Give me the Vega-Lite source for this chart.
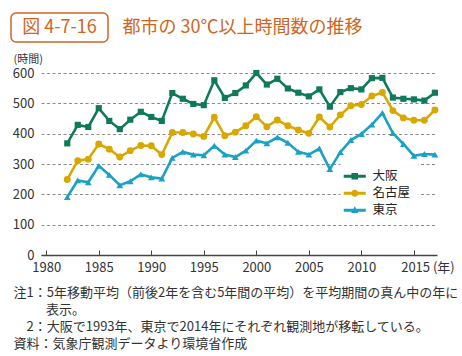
{
  "$schema": "https://vega.github.io/schema/vega-lite/v6.json",
  "background": "white",
  "padding": {"left": 10, "top": 12, "right": 2, "bottom": 2},
  "spacing": 10,
  "config": {
    "font": "Noto Sans CJK JP",
    "view": {"stroke": null}
  },
  "vconcat": [
    {
      "spacing": 13,
      "hconcat": [
        {
          "width": 97,
          "height": 29,
          "view": {"stroke": "#cf6523", "strokeWidth": 1.5, "cornerRadius": 5},
          "data": {"values": [{"label": "図 4-7-16"}]},
          "mark": {"type": "text", "font": "Noto Sans CJK JP", "fontSize": 18, "color": "#cf6523"},
          "encoding": {"text": {"field": "label"}}
        },
        {
          "width": 1,
          "height": 29,
          "data": {"values": [{"label": "都市の 30℃以上時間数の推移"}]},
          "mark": {"type": "text", "align": "left", "font": "Noto Sans CJK JP", "fontSize": 18, "color": "#cf6523"},
          "encoding": {"text": {"field": "label"}}
        }
      ]
    },
    {
      "spacing": 0,
      "resolve": {"legend": {"color": "independent"}},
      "hconcat": [
        {
          "width": 1,
          "height": 1,
          "data": {"values": [{"label": ""}]},
          "mark": {"type": "text"},
          "encoding": {"text": {"field": "label"}}
        },
        {
          "width": 396,
          "height": 182,
          "data": {"values": [
            {"year": 1982, "city": "大阪", "value": 368}, {"year": 1983, "city": "大阪", "value": 429}, {"year": 1984, "city": "大阪", "value": 422}, {"year": 1985, "city": "大阪", "value": 484}, {"year": 1986, "city": "大阪", "value": 442}, {"year": 1987, "city": "大阪", "value": 415}, {"year": 1988, "city": "大阪", "value": 446}, {"year": 1989, "city": "大阪", "value": 472}, {"year": 1990, "city": "大阪", "value": 455}, {"year": 1991, "city": "大阪", "value": 442}, {"year": 1992, "city": "大阪", "value": 534}, {"year": 1993, "city": "大阪", "value": 515}, {"year": 1994, "city": "大阪", "value": 498}, {"year": 1995, "city": "大阪", "value": 494}, {"year": 1996, "city": "大阪", "value": 576}, {"year": 1997, "city": "大阪", "value": 518}, {"year": 1998, "city": "大阪", "value": 534}, {"year": 1999, "city": "大阪", "value": 559}, {"year": 2000, "city": "大阪", "value": 600}, {"year": 2001, "city": "大阪", "value": 562}, {"year": 2002, "city": "大阪", "value": 581}, {"year": 2003, "city": "大阪", "value": 549}, {"year": 2004, "city": "大阪", "value": 535}, {"year": 2005, "city": "大阪", "value": 523}, {"year": 2006, "city": "大阪", "value": 546}, {"year": 2007, "city": "大阪", "value": 489}, {"year": 2008, "city": "大阪", "value": 537}, {"year": 2009, "city": "大阪", "value": 550}, {"year": 2010, "city": "大阪", "value": 546}, {"year": 2011, "city": "大阪", "value": 583}, {"year": 2012, "city": "大阪", "value": 584}, {"year": 2013, "city": "大阪", "value": 519}, {"year": 2014, "city": "大阪", "value": 515}, {"year": 2015, "city": "大阪", "value": 513}, {"year": 2016, "city": "大阪", "value": 509}, {"year": 2017, "city": "大阪", "value": 535},
            {"year": 1982, "city": "名古屋", "value": 249}, {"year": 1983, "city": "名古屋", "value": 311}, {"year": 1984, "city": "名古屋", "value": 316}, {"year": 1985, "city": "名古屋", "value": 366}, {"year": 1986, "city": "名古屋", "value": 349}, {"year": 1987, "city": "名古屋", "value": 323}, {"year": 1988, "city": "名古屋", "value": 344}, {"year": 1989, "city": "名古屋", "value": 361}, {"year": 1990, "city": "名古屋", "value": 360}, {"year": 1991, "city": "名古屋", "value": 331}, {"year": 1992, "city": "名古屋", "value": 404}, {"year": 1993, "city": "名古屋", "value": 404}, {"year": 1994, "city": "名古屋", "value": 399}, {"year": 1995, "city": "名古屋", "value": 391}, {"year": 1996, "city": "名古屋", "value": 454}, {"year": 1997, "city": "名古屋", "value": 393}, {"year": 1998, "city": "名古屋", "value": 405}, {"year": 1999, "city": "名古屋", "value": 426}, {"year": 2000, "city": "名古屋", "value": 456}, {"year": 2001, "city": "名古屋", "value": 423}, {"year": 2002, "city": "名古屋", "value": 445}, {"year": 2003, "city": "名古屋", "value": 426}, {"year": 2004, "city": "名古屋", "value": 412}, {"year": 2005, "city": "名古屋", "value": 401}, {"year": 2006, "city": "名古屋", "value": 455}, {"year": 2007, "city": "名古屋", "value": 422}, {"year": 2008, "city": "名古屋", "value": 462}, {"year": 2009, "city": "名古屋", "value": 492}, {"year": 2010, "city": "名古屋", "value": 496}, {"year": 2011, "city": "名古屋", "value": 524}, {"year": 2012, "city": "名古屋", "value": 536}, {"year": 2013, "city": "名古屋", "value": 476}, {"year": 2014, "city": "名古屋", "value": 452}, {"year": 2015, "city": "名古屋", "value": 444}, {"year": 2016, "city": "名古屋", "value": 444}, {"year": 2017, "city": "名古屋", "value": 478},
            {"year": 1982, "city": "東京", "value": 191}, {"year": 1983, "city": "東京", "value": 246}, {"year": 1984, "city": "東京", "value": 240}, {"year": 1985, "city": "東京", "value": 294}, {"year": 1986, "city": "東京", "value": 264}, {"year": 1987, "city": "東京", "value": 230}, {"year": 1988, "city": "東京", "value": 243}, {"year": 1989, "city": "東京", "value": 266}, {"year": 1990, "city": "東京", "value": 256}, {"year": 1991, "city": "東京", "value": 252}, {"year": 1992, "city": "東京", "value": 320}, {"year": 1993, "city": "東京", "value": 340}, {"year": 1994, "city": "東京", "value": 331}, {"year": 1995, "city": "東京", "value": 329}, {"year": 1996, "city": "東京", "value": 360}, {"year": 1997, "city": "東京", "value": 331}, {"year": 1998, "city": "東京", "value": 323}, {"year": 1999, "city": "東京", "value": 344}, {"year": 2000, "city": "東京", "value": 377}, {"year": 2001, "city": "東京", "value": 368}, {"year": 2002, "city": "東京", "value": 388}, {"year": 2003, "city": "東京", "value": 370}, {"year": 2004, "city": "東京", "value": 340}, {"year": 2005, "city": "東京", "value": 331}, {"year": 2006, "city": "東京", "value": 351}, {"year": 2007, "city": "東京", "value": 283}, {"year": 2008, "city": "東京", "value": 339}, {"year": 2009, "city": "東京", "value": 379}, {"year": 2010, "city": "東京", "value": 399}, {"year": 2011, "city": "東京", "value": 430}, {"year": 2012, "city": "東京", "value": 468}, {"year": 2013, "city": "東京", "value": 402}, {"year": 2014, "city": "東京", "value": 366}, {"year": 2015, "city": "東京", "value": 327}, {"year": 2016, "city": "東京", "value": 333}, {"year": 2017, "city": "東京", "value": 331}
          ]},
          "encoding": {
            "x": {
              "field": "year", "type": "quantitative",
              "scale": {"domain": [1979.5, 2017.2], "nice": false, "zero": false},
              "axis": {
                "values": [1980, 1985, 1990, 1995, 2000, 2005, 2010, 2015],
                "format": "d",
                "labelExpr": "datum.value === 2015 ? '\u200b\u2007\u2007\u2007\u2009 2015 (年)' : datum.label",
                "labelOverlap": false,
                "labelBound": false,
                "grid": false,
                "domainColor": "#444", "domainWidth": 1.3,
                "tickColor": "#444", "tickSize": -5, "tickWidth": 1,
                "labelPadding": 11, "labelFontSize": 13, "labelColor": "#333",
                "title": [
                  "注1：5年移動平均（前後2年を含む5年間の平均）を平均期間の真ん中の年に",
                  "\u200b\u3000\u3000\u2002表示。",
                  "\u200b\u30002：大阪で1993年、東京で2014年にそれぞれ観測地が移転している。",
                  "資料：気象庁観測データより環境省作成"
                ],
                "titleX": -28, "titleY": 31,
                "titleAlign": "left", "titleAnchor": "start", "titleBaseline": "top",
                "titleFontSize": 13, "titleFontWeight": "normal", "titleColor": "#333",
                "titleLineHeight": 17
              }
            },
            "y": {
              "field": "value", "type": "quantitative",
              "scale": {"domain": [0, 600], "nice": false},
              "axis": {
                "values": [0, 100, 200, 300, 400, 500, 600],
                "domain": false, "ticks": false,
                "grid": true, "gridDash": [3, 2.5], "gridColor": "#8a8a8a", "gridWidth": 1,
                "labelPadding": 7, "labelFontSize": 13, "labelColor": "#333",
                "title": "(時間)", "titleAngle": 0, "titleAlign": "left", "titleBaseline": "middle",
                "titleX": -28, "titleY": -14, "titleFontSize": 11, "titleFontWeight": "normal", "titleColor": "#333"
              }
            }
          },
          "layer": [
            {
              "mark": {"type": "line", "strokeWidth": 2.6},
              "encoding": {
                "color": {
                  "field": "city", "type": "nominal",
                  "scale": {"domain": ["大阪", "名古屋", "東京"], "range": ["#0f7a5a", "#d8a800", "#1aa2c3"]},
                  "legend": {
                    "orient": "none", "legendX": 299.5, "legendY": 89,
                    "title": null, "fillColor": "white", "padding": 8,
                    "symbolSize": 121, "symbolStrokeWidth": 0,
                    "labelFontSize": 12.5, "labelColor": "#222", "labelOffset": 11.5, "rowPadding": 4,
                    "encode": {
                      "symbols": {
                        "update": {
                          "shape": {"signal": "datum.value === '大阪' ? 'M-2,-0.27H2V0.27H-2Z M-0.6,-0.6H0.6V0.6H-0.6Z' : datum.value === '名古屋' ? 'M-2,-0.27H2V0.27H-2Z M-0.65,0A0.65,0.65 0 1,1 0.65,0A0.65,0.65 0 1,1 -0.65,0Z' : 'M-2,-0.27H2V0.27H-2Z M0,-0.72L0.66,0.5H-0.66Z'"},
                          "fill": {"signal": "scale('color', datum.value)"},
                          "stroke": {"value": "transparent"},
                          "opacity": {"value": 1}
                        }
                      }
                    }
                  }
                }
              }
            },
            {
              "transform": [{"filter": "datum.city === '大阪'"}],
              "mark": {"type": "point", "shape": "square", "filled": true, "opacity": 1, "size": 38},
              "encoding": {"color": {"field": "city", "type": "nominal", "legend": null}}
            },
            {
              "transform": [{"filter": "datum.city === '名古屋'"}],
              "mark": {"type": "point", "shape": "circle", "filled": true, "opacity": 1, "size": 48},
              "encoding": {"color": {"field": "city", "type": "nominal", "legend": null}}
            },
            {
              "transform": [{"filter": "datum.city === '東京'"}],
              "mark": {"type": "point", "shape": "triangle-up", "filled": true, "opacity": 1, "size": 46},
              "encoding": {"color": {"field": "city", "type": "nominal", "legend": null}}
            }
          ]
        }
      ]
    }
  ]
}
